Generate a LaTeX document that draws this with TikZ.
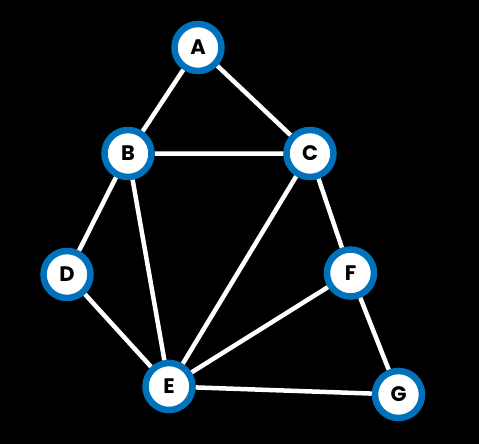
\documentclass[tikz,border=0pt]{standalone}
\usepackage{fontspec}
\setmainfont{Poppins}
\definecolor{ringblue}{RGB}{0,114,188}
\begin{document}
\begin{tikzpicture}[x=1pt,y=-1pt,
  vert/.style={circle, draw=ringblue, line width=6.5pt, fill=white, minimum size=47pt, inner sep=0pt, font=\fontsize{21}{21}\selectfont\bfseries, text=black},
  edge/.style={draw=white, line width=4.5pt}]
\fill[black] (0,0) rectangle (479,444);
\useasboundingbox (0,0) rectangle (479,444);
\node[vert] (A) at (198,47.5) {A};
\node[vert] (B) at (128,153.5) {B};
\node[vert] (C) at (310,153.5) {C};
\node[vert] (D) at (67,274.5) {D};
\node[vert] (F) at (350.5,273) {F};
\node[vert] (E) at (169,386.5) {E};
\node[vert] (G) at (398.5,394.5) {G};
\path[edge] (A) -- (B) (A) -- (C) (B) -- (C) (B) -- (D) (B) -- (E)
  (C) -- (E) (C) -- (F) (D) -- (E) (E) -- (F) (E) -- (G) (F) -- (G);
\end{tikzpicture}
\end{document}
